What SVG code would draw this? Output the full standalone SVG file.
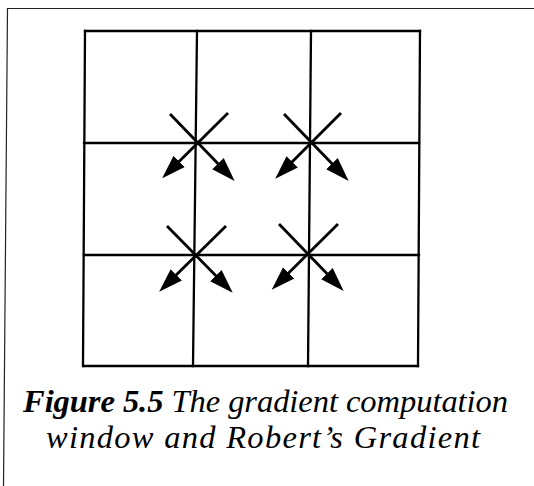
<svg xmlns="http://www.w3.org/2000/svg" width="534" height="486" viewBox="0 0 534 486">
<style>
.frame{stroke:#222;stroke-width:1.2;fill:none}
.grid{stroke:#000;stroke-width:2.3;fill:none;stroke-linecap:square}
.arm{stroke:#000;stroke-width:2.8;fill:none}
.cap{font-family:"Liberation Serif","Times New Roman",serif;font-style:italic;font-size:32.5px;fill:#000}
.b{font-weight:bold}
</style>
<defs>
<marker id="ah" markerUnits="userSpaceOnUse" markerWidth="26" markerHeight="20" viewBox="0 -10 26 20" refX="13" refY="0" orient="auto">
<path d="M0,-8 L24,0 L0,8 z" fill="#000"/>
</marker>
</defs>
<rect width="534" height="486" fill="#fff"/>
<g id="border">
<line class="frame" x1="7" y1="8.5" x2="534" y2="8.5"/>
<line class="frame" x1="7.5" y1="8" x2="3.5" y2="486"/>
</g>
<g id="grid">
<line class="grid" x1="85" y1="31" x2="420" y2="31"/>
<line class="grid" x1="84" y1="143" x2="419" y2="143"/>
<line class="grid" x1="84" y1="255" x2="419" y2="255"/>
<line class="grid" x1="84" y1="366" x2="418" y2="366"/>
<line class="grid" x1="85" y1="31" x2="83" y2="366"/>
<line class="grid" x1="197" y1="31" x2="193" y2="366"/>
<line class="grid" x1="311" y1="31" x2="308" y2="366"/>
<line class="grid" x1="420" y1="31" x2="418" y2="366"/>
</g>
<g id="connectors">
<g id="cross-tl" transform="translate(197,143)">
<line class="arm" x1="-27" y1="-29" x2="30" y2="30" marker-end="url(#ah)"/>
<line class="arm" x1="31" y1="-30" x2="-27" y2="27.5" marker-end="url(#ah)"/>
</g>
<g id="cross-tr" transform="translate(311,143)">
<line class="arm" x1="-27" y1="-29" x2="30" y2="30" marker-end="url(#ah)"/>
<line class="arm" x1="30" y1="-30" x2="-28" y2="28" marker-end="url(#ah)"/>
</g>
<g id="cross-bl" transform="translate(195,255)">
<line class="arm" x1="-28" y1="-29" x2="30" y2="30" marker-end="url(#ah)"/>
<line class="arm" x1="31" y1="-29" x2="-28" y2="29" marker-end="url(#ah)"/>
</g>
<g id="cross-br" transform="translate(308,255)">
<line class="arm" x1="-29" y1="-31" x2="28" y2="28" marker-end="url(#ah)"/>
<line class="arm" x1="30" y1="-31" x2="-28.5" y2="27" marker-end="url(#ah)"/>
</g>
</g>
<g id="caption">
<text class="cap" x="23" y="412" textLength="485" lengthAdjust="spacing"><tspan class="b">Figure 5.5</tspan> The gradient computation</text>
<text class="cap" x="46" y="448" textLength="434" lengthAdjust="spacing">window and Robert’s Gradient</text>
</g>
</svg>
